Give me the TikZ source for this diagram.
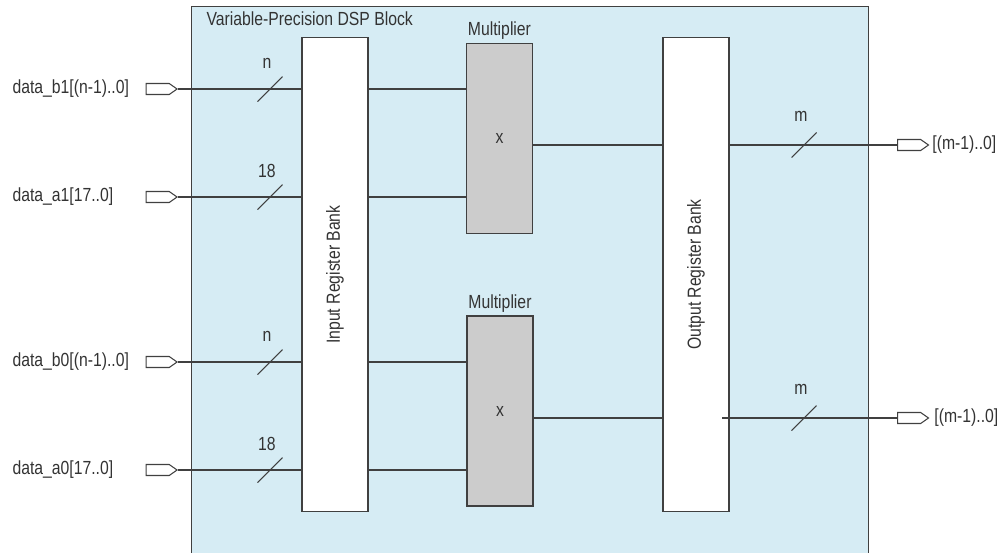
\documentclass[tikz,border=0pt]{standalone}
\usepackage{fontspec}
\setmainfont{Liberation Sans}[FakeStretch=0.83]
\usepackage{tikz}
\usetikzlibrary{shapes.symbols}

\definecolor{dspblue}{RGB}{214,236,244}
\definecolor{multgray}{RGB}{204,204,204}
\definecolor{wire}{RGB}{64,64,64}

\begin{document}
\begin{tikzpicture}[
		x=0.02cm, y=-0.02cm,
		line width=0.6pt,
		font=\fontsize{10.8}{13}\selectfont,
		every node/.style={text=black!80},
		dsp/.style={draw=wire,fill=dspblue,minimum width=13.54cm,minimum height=11.4cm,anchor=north west,inner sep=0},
		bank/.style={draw=wire,fill=white,minimum width=1.32cm,minimum height=9.5cm,inner sep=0},
		mult/.style={draw=wire,fill=multgray,minimum width=1.32cm,minimum height=3.8cm,inner sep=0},
		port/.style={draw=wire,fill=white,signal,signal to=east,signal pointer angle=70,minimum width=0.62cm,minimum height=0.22cm,inner sep=0}
	]
		\clip (0,0) rectangle (998,552);

		% Block
		\node[dsp] (dsp) at (191,6) {};
		\node[anchor=west,inner sep=0] (title) at (206,19) {Variable-Precision DSP Block};

		% Register banks
		\node[bank] (inbank) at (335,274.5) {};
		\node[rotate=90] (inlbl) at (inbank) {Input Register Bank};
		\node[bank] (outbank) at (696,274.5) {};
		\node[rotate=90] (outlbl) at (outbank) {Output Register Bank};

		% Multipliers
		\node[mult,label={[inner sep=1.5pt]above:Multiplier}] (mult1) at (499.5,138.5) {x};
		\node[mult,label={[inner sep=1.5pt]above:Multiplier}] (mult0) at (500,411) {x};

		% Ports
		\node[port,anchor=east] (pb1) at (178,89) {};
		\node[port,anchor=east] (pa1) at (178,197) {};
		\node[port,anchor=east] (pb0) at (178,362) {};
		\node[port,anchor=east] (pa0) at (178,470) {};
		\node[port,anchor=west] (pr1) at (897,145) {};
		\node[port,anchor=west] (pr0) at (897,418) {};

		\node[anchor=west,inner sep=0] (lb1) at (12,89) {data\_b1[(n-1)..0]};
		\node[anchor=west,inner sep=0] (la1) at (12,197) {data\_a1[17..0]};
		\node[anchor=west,inner sep=0] (lb0) at (12,362) {data\_b0[(n-1)..0]};
		\node[anchor=west,inner sep=0] (la0) at (12,470) {data\_a0[17..0]};
		\node[anchor=west] (lr1) at (926,145) {[(m-1)..0]};
		\node[anchor=west] (lr0) at (928,418) {[(m-1)..0]};

		% Wires
		\draw[wire] (pb1.east) -- (inbank.west |- pb1);
		\draw[wire] (pa1.east) -- (inbank.west |- pa1);
		\draw[wire] (pb0.east) -- (inbank.west |- pb0);
		\draw[wire] (pa0.east) -- (inbank.west |- pa0);
		\draw[wire] (inbank.east |- pb1) -- (mult1.west |- pb1);
		\draw[wire] (inbank.east |- pa1) -- (mult1.west |- pa1);
		\draw[wire] (inbank.east |- pb0) -- (mult0.west |- pb0);
		\draw[wire] (inbank.east |- pa0) -- (mult0.west |- pa0);
		\draw[wire] (mult1.east |- pr1) -- (outbank.west |- pr1);
		\draw[wire] (mult0.east |- pr0) -- (outbank.west |- pr0);
		\draw[wire] (outbank.east |- pr1) -- (pr1.west);
		\draw[wire] ([xshift=-4]outbank.east |- pr0) -- (pr0.west);

		% Bus widths
		\foreach \y/\w in {89/n, 197/18, 362/n, 470/18} {
			\draw[wire] (257.5,\y+12.5) -- ++(25,-25);
			\node (w\y) at (267,\y-26) {\w};
		}
		\foreach \y in {145, 418} {
			\draw[wire] (791.5,\y+12.5) -- ++(25,-25);
			\node (w\y) at (801,\y-29) {m};
		}
	\end{tikzpicture}
\end{document}
